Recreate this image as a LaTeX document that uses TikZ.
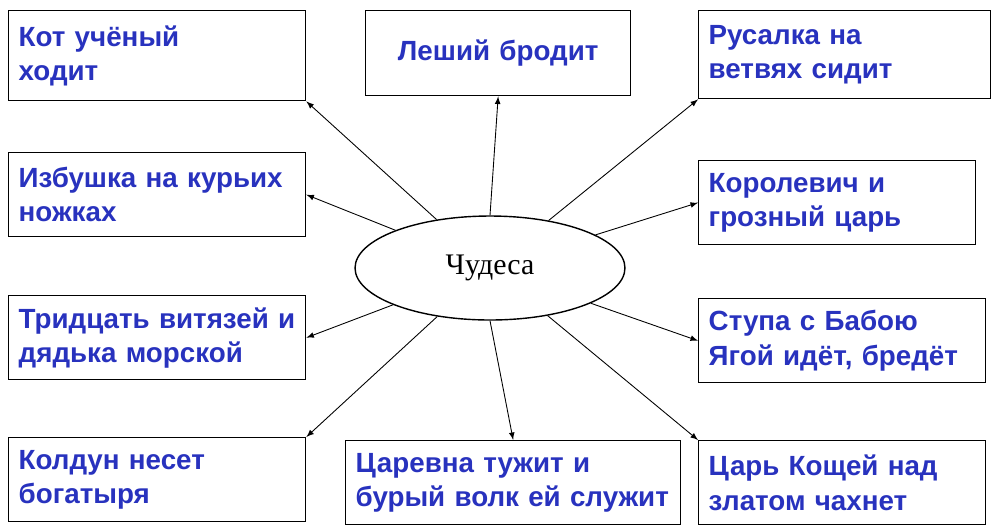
\documentclass[tikz,border=0pt]{standalone}
\usepackage{fontspec}
\setmainfont{Liberation Sans}
\newfontfamily\serifcyr{Liberation Serif}
\usetikzlibrary{shapes.geometric}
\definecolor{txtblue}{RGB}{40,50,190}
\tikzset{
  box/.style={draw, line width=0.8pt, anchor=north west, align=left,
    inner xsep=0.2cm, minimum height=1.68cm, text=txtblue,
    font=\fontsize{15.8}{19.5}\selectfont\bfseries},
  link/.style={-latex, line width=0.5pt}
}
\begin{document}
\begin{tikzpicture}[x=0.02cm, y=-0.02cm]
  \useasboundingbox (0,0) rectangle (1000,529);
  % центр
  \node[ellipse, draw, line width=0.8pt, minimum width=5.4cm, minimum height=2.08cm,
    font=\serifcyr\fontsize{17}{20}\selectfont] (e) at (490,268) {Чудеса};
  % верхний ряд
  \node[box, text width=5.54cm, minimum height=1.8cm] (kot) at (8,10) {Кот учёный\\ходит};
  \node[box, text width=4.9cm, minimum height=1.7cm, align=center] (lesh) at (365,10) {Леший бродит};
  \node[box, text width=5.44cm, minimum height=1.76cm] (rus) at (698,10) {Русалка на\\ветвях сидит};
  % второй ряд
  \node[box, text width=5.54cm] (izb) at (8,152) {Избушка на курьих\\ножках};
  \node[box, text width=5.14cm] (kor) at (698,160) {Королевич и\\грозный царь};
  % третий ряд
  \node[box, text width=5.54cm] (trid) at (8,295) {Тридцать витязей и\\дядька морской};
  \node[box, text width=5.34cm] (stupa) at (698,298) {Ступа с Бабою\\Ягой идёт, бредёт};
  % нижний ряд
  \node[box, text width=5.54cm] (kold) at (8,437) {Колдун несет\\богатыря};
  \node[box, text width=6.3cm] (tsar) at (345,440) {Царевна тужит и\\бурый волк ей служит};
  \node[box, text width=5.34cm] (kosh) at (698,440) {Царь Кощей над\\златом чахнет};
  % стрелки
  \draw[link] (e) -- (kot.south east);
  \draw[link] (e.north) -- (lesh.south);
  \draw[link] (e) -- (rus.south west);
  \draw[link] (e) -- (izb.east);
  \draw[link] (e) -- (kor.west);
  \draw[link] (e) -- (trid.east);
  \draw[link] (e) -- (stupa.west);
  \draw[link] (e) -- (kold.north east);
  \draw[link] (e.south) -- (tsar.north);
  \draw[link] (e) -- (kosh.north west);
\end{tikzpicture}
\end{document}
